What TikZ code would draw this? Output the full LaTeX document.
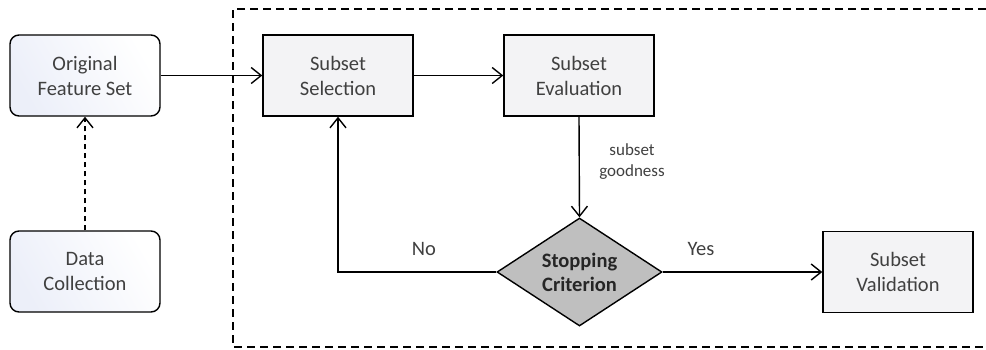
\documentclass[tikz,border=0pt]{standalone}
\usepackage{fontspec}
\setmainfont{Carlito}
\usetikzlibrary{shapes.geometric,arrows.meta}

\definecolor{txt}{HTML}{404040}
\definecolor{boxfill}{HTML}{F3F3F5}
\definecolor{softblue}{HTML}{ECEFF9}
\definecolor{decfill}{HTML}{BFBFBF}

\tikzset{
  base/.style={draw=black, line width=1.4pt, text=txt, align=center,
    font=\fontsize{20.5}{25}\selectfont, inner sep=0pt},
  sourcebox/.style={base, rounded corners=9pt, minimum width=150pt,
    minimum height=81pt, left color=softblue, right color=white,
    shading angle=120},
  stepbox/.style={base, fill=boxfill, minimum width=150pt, minimum height=81pt},
  decision/.style={base, diamond, aspect=1.53, fill=decfill,
    minimum width=165pt, minimum height=108pt,
    font=\fontsize{20.5}{24}\selectfont\bfseries, text=black!85},
  flow/.style={line width=1.4pt, -{Straight Barb[length=10pt,width=16pt,line width=1.4pt]}},
  feed/.style={flow, dash pattern=on 5pt off 4pt},
  frame/.style={line width=1.3pt, dash pattern=on 8pt off 5pt},
  lbl/.style={text=txt, align=center, inner sep=0pt},
}

\begin{document}
\begin{tikzpicture}[x=1pt, y=-1pt]
  \useasboundingbox (0,0) rectangle (986,349);

  % enclosing search loop frame, open to the right
  \coordinate (fa) at (986,9);
  \coordinate (fb) at (233,9);
  \coordinate (fc) at (233,347);
  \coordinate (fd) at (986,347);
  \draw[frame] (fa) -- (fb) -- (fc) -- (fd);

  % nodes
  \node[sourcebox] (ofs) at (85,75.5) {Original\\Feature Set};
  \node[sourcebox] (dc)  at (85,271.5) {Data\\Collection};
  \node[stepbox]   (ss)  at (338,75.5) {Subset\\Selection};
  \node[stepbox]   (se)  at (579,75.5) {Subset\\Evaluation};
  \node[decision]  (sc)  at (579.5,272) {Stopping\\Criterion};
  \node[stepbox]   (sv)  at (898,272) {Subset\\Validation};

  % labels
  \node[lbl, font=\fontsize{17}{21}\selectfont] (good) at (632,162) {subset\\goodness};
  \node[lbl, font=\fontsize{20.5}{25}\selectfont] (no)  at (424,249) {No};
  \node[lbl, font=\fontsize{20.5}{25}\selectfont] (yes) at (701,249) {Yes};

  % connectors
  \draw[feed] (dc.north) -- (ofs.south);
  \draw[flow] (ofs.east) -- (ss.west);
  \draw[flow] (ss.east) -- (se.west);
  \draw[flow] (se.south) -- (sc.north);
  \draw[flow] (sc.west) -| (ss.south);
  \draw[flow] (sc.east) -- (sv.west);
\end{tikzpicture}
\end{document}
